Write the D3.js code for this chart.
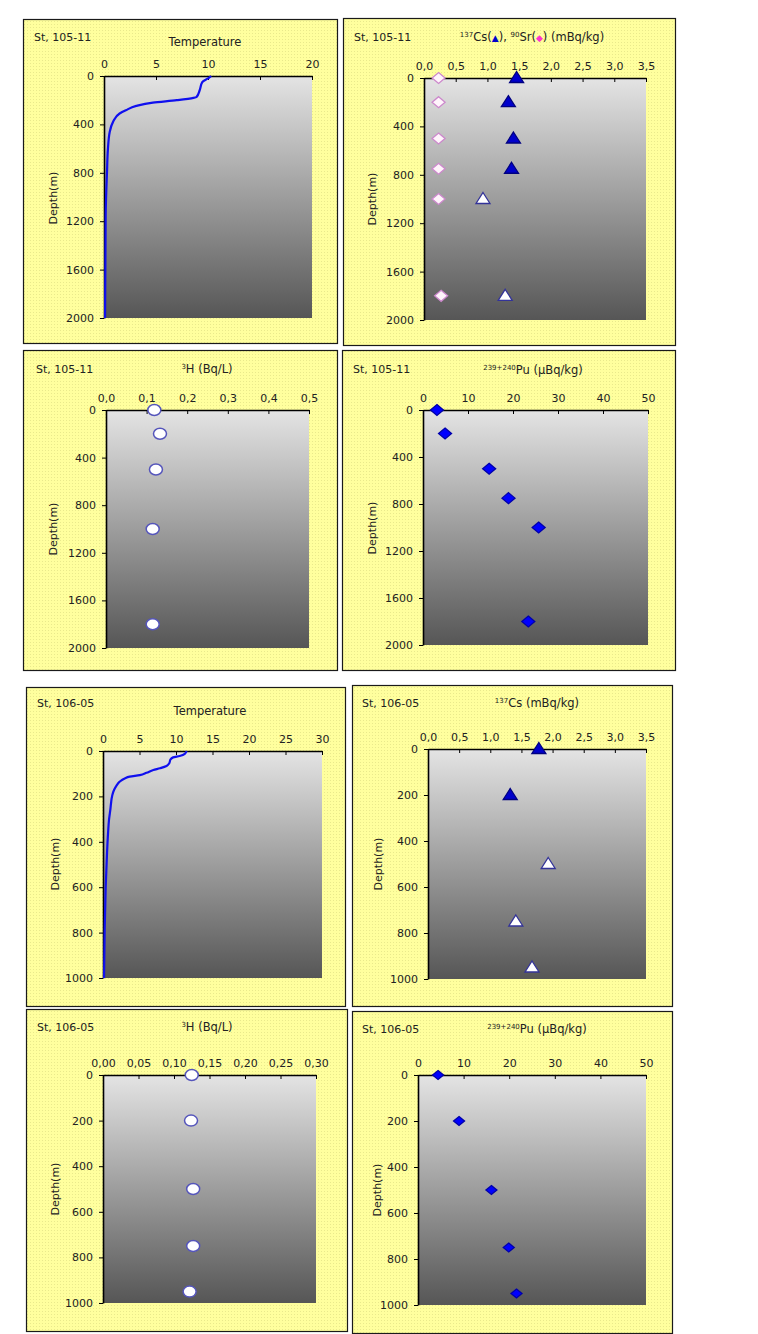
<!DOCTYPE html>
<html>
<head>
<meta charset="utf-8">
<title>St 105-11 / St 106-05 depth profiles</title>
<script src="https://cdn.jsdelivr.net/npm/d3@7"></script>
<style>
	body { margin: 0; background: #fff; }
	svg text { font-family: "DejaVu Sans", sans-serif; fill: #222; }
</style>
</head>
<body>
<svg id="chart" width="758" height="1334"></svg>
<script>
// ---- data, each point is [value, depth(m)] ----
var temp105 = [[10.3,0],[10.2,8],[10.0,20],[9.45,50],[9.2,118],[8.9,173],[8.6,181],[7.0,200],[4.7,220],[3.1,247],[2.1,283],[1.5,310],[0.87,379],[0.55,462],[0.38,600],[0.29,790],[0.16,1150],[0.1,2000]];
var cs105Filled = [[1.46,0],[1.33,200],[1.41,500],[1.38,750]];
var cs105Open = [[0.93,1000],[1.28,1800]];
var sr105 = [[0.23,0],[0.23,200],[0.23,500],[0.23,750],[0.23,1000],[0.27,1800]];
var h105 = [[0.119,0],[0.133,200],[0.123,500],[0.115,1000],[0.115,1800]];
var pu105 = [[3.1,0],[4.9,200],[14.7,500],[19.0,750],[25.7,1000],[23.4,1800]];

var temp106 = [[11.45,0],[11.2,13],[10.5,22],[9.6,28],[9.25,37],[9.07,54],[8.7,66],[7.8,76],[6.9,84],[5.95,96],[5.04,106],[3.66,113],[2.98,121],[2.29,135],[1.83,154],[1.51,172],[1.28,194],[1.0,260],[0.82,304],[0.69,363],[0.55,451],[0.37,599],[0.23,790],[0.14,1000]];
var cs106Filled = [[1.78,0],[1.32,200]];
var cs106Open = [[1.93,500],[1.41,750],[1.67,950]];
var h106 = [[0.125,0],[0.124,200],[0.127,500],[0.127,750],[0.122,950]];
var pu106 = [[4.4,0],[9.0,200],[16.1,500],[19.9,750],[21.6,950]];

// ---- tick values ----
var depthTicks2000 = [0,400,800,1200,1600,2000];
var depthTicks1000 = [0,200,400,600,800,1000];
var tempTicks20 = [0,5,10,15,20];
var tempTicks30 = [0,5,10,15,20,25,30];
var csTicks = [0,0.5,1,1.5,2,2.5,3,3.5];
var h105Ticks = [0,0.1,0.2,0.3,0.4,0.5];
var h106Ticks = [0,0.05,0.1,0.15,0.2,0.25,0.3];
var puTicks = [0,10,20,30,40,50];

// decimal comma like the original
function comma(n) { return function(v) { return d3.format("." + n + "f")(v).replace(".", ","); }; }
var plain = d3.format("d");

var svg = d3.select("#chart");
var defs = svg.append("defs");

var pat = defs.append("pattern").attr("id", "yellow").attr("patternUnits", "userSpaceOnUse")
	.attr("width", 3).attr("height", 3);
pat.append("rect").attr("width", 3).attr("height", 3).attr("fill", "#ffff9e");
pat.append("rect").attr("width", 1).attr("height", 1).attr("fill", "#e9e98c");

var grad = defs.append("linearGradient").attr("id", "gray").attr("x1", 0).attr("y1", 0).attr("x2", 0).attr("y2", 1);
grad.append("stop").attr("offset", "0%").attr("stop-color", "#e4e4e4");
grad.append("stop").attr("offset", "100%").attr("stop-color", "#565656");

// marker shapes
var triPath = "M0,-6.5L7,4.5L-7,4.5Z";
var diaPath = "M0,-5.5L6.5,0L0,5.5L-6.5,0Z";
var diaSmall = "M0,-4.5L5.5,0L0,4.5L-5.5,0Z";

// panel layout: box [x0,y0,x1,y1], plot [x0,x1,y0,y1]
var panels = [
	{ box:[23,19,337,343], plot:[104,312,76,318], st:[34,41], title:[205,46], ylab:[53,198],
	  titleParts:[{t:"Temperature"}], xDomain:[0,20], xTicks:tempTicks20, fmt:plain, yMax:2000, yTicks:depthTicks2000,
	  line:temp105 },
	{ box:[343,18,675,345], plot:[424,646,78,320], st:[354,41], title:[532,41], ylab:[372,199],
	  titleParts:[{s:"137"},{t:"Cs("},{t:"\u25B2",c:"#0000cc"},{t:"), "},{s:"90"},{t:"Sr("},{t:"\u25C6",c:"#ff33cc"},{t:") (mBq/kg)"}],
	  xDomain:[0,3.5], xTicks:csTicks, fmt:comma(1), yMax:2000, yTicks:depthTicks2000,
	  marks:[{d:sr105,shape:diaPath,fill:"#fff4fb",stroke:"#cc88cc"},
	         {d:cs105Filled,shape:triPath,fill:"#0000cc",stroke:"#000080"},
	         {d:cs105Open,shape:triPath,fill:"#ffffff",stroke:"#333399"}] },
	{ box:[23,350,337,670], plot:[106,309,410,648], st:[36,373], title:[207,373], ylab:[53,529],
	  titleParts:[{s:"3"},{t:"H (Bq/L)"}], xDomain:[0,0.5], xTicks:h105Ticks, fmt:comma(1), yMax:2000, yTicks:depthTicks2000,
	  marks:[{d:h105,ellipse:true,fill:"#ffffff",stroke:"#5555bb"}] },
	{ box:[342,350,675,670], plot:[423,648,410,645], st:[353,373], title:[533,374], ylab:[372,528],
	  titleParts:[{s:"239+240"},{t:"Pu (\u03BCBq/kg)"}], xDomain:[0,50], xTicks:puTicks, fmt:plain, yMax:2000, yTicks:depthTicks2000,
	  marks:[{d:pu105,shape:diaPath,fill:"#0000ff",stroke:"#0000aa"}] },
	{ box:[26,687,345,1006], plot:[103,322,751,978], st:[37,707], title:[210,715], ylab:[55,864],
	  titleParts:[{t:"Temperature"}], xDomain:[0,30], xTicks:tempTicks30, fmt:plain, yMax:1000, yTicks:depthTicks1000,
	  line:temp106 },
	{ box:[352,685,672,1006], plot:[428,646,749,979], st:[362,707], title:[537,707], ylab:[378,864],
	  titleParts:[{s:"137"},{t:"Cs (mBq/kg)"}], xDomain:[0,3.5], xTicks:csTicks, fmt:comma(1), yMax:1000, yTicks:depthTicks1000,
	  marks:[{d:cs106Filled,shape:triPath,fill:"#0000cc",stroke:"#000080"},
	         {d:cs106Open,shape:triPath,fill:"#ffffff",stroke:"#333399"}] },
	{ box:[26,1009,347,1331], plot:[103,316,1075,1303], st:[37,1031], title:[207,1031], ylab:[55,1189],
	  titleParts:[{s:"3"},{t:"H (Bq/L)"}], xDomain:[0,0.3], xTicks:h106Ticks, fmt:comma(2), yMax:1000, yTicks:depthTicks1000,
	  marks:[{d:h106,ellipse:true,fill:"#ffffff",stroke:"#5555bb"}] },
	{ box:[352,1011,672,1333], plot:[418,646,1075,1305], st:[362,1033], title:[537,1033], ylab:[377,1190],
	  titleParts:[{s:"239+240"},{t:"Pu (\u03BCBq/kg)"}], xDomain:[0,50], xTicks:puTicks, fmt:plain, yMax:1000, yTicks:depthTicks1000,
	  marks:[{d:pu106,shape:diaSmall,fill:"#0000ff",stroke:"#0000aa"}] }
];

var stations = ["St, 105-11","St, 105-11","St, 105-11","St, 105-11","St, 106-05","St, 106-05","St, 106-05","St, 106-05"];

panels.forEach(function(p, i) {
	var g = svg.append("g");
	g.append("rect")
		.attr("x", p.box[0] + 0.5).attr("y", p.box[1] + 0.5)
		.attr("width", p.box[2] - p.box[0]).attr("height", p.box[3] - p.box[1])
		.attr("fill", "url(#yellow)").attr("stroke", "#1a1a1a").attr("stroke-width", 1.2);

	var x = d3.scaleLinear().domain(p.xDomain).range([p.plot[0], p.plot[1]]);
	var y = d3.scaleLinear().domain([0, p.yMax]).range([p.plot[2], p.plot[3]]);

	g.append("rect")
		.attr("x", p.plot[0]).attr("y", p.plot[2])
		.attr("width", p.plot[1] - p.plot[0]).attr("height", p.plot[3] - p.plot[2])
		.attr("fill", "url(#gray)");

	// axes
	var ax = g.append("g").attr("transform", "translate(0," + p.plot[2] + ")")
		.call(d3.axisTop(x).tickValues(p.xTicks).tickFormat(p.fmt).tickSizeInner(-4).tickSizeOuter(0).tickPadding(8));
	var ay = g.append("g").attr("transform", "translate(" + p.plot[0] + ",0)")
		.call(d3.axisLeft(y).tickValues(p.yTicks).tickFormat(plain).tickSizeInner(4).tickSizeOuter(0).tickPadding(6));
	[ax, ay].forEach(function(a) {
		a.select(".domain").attr("stroke", "#000").attr("stroke-width", 1.6);
		a.selectAll(".tick line").attr("stroke", "#000");
		a.selectAll(".tick text").attr("font-size", 11).attr("fill", "#222")
			.style("font-family", "'DejaVu Sans', sans-serif");
	});

	// labels
	g.append("text").attr("x", p.st[0]).attr("y", p.st[1]).attr("font-size", 11).text(stations[i]);
	var tt = g.append("text").attr("x", p.title[0]).attr("y", p.title[1])
		.attr("text-anchor", "middle").attr("font-size", 11.5);
	var shifted = false;
	p.titleParts.forEach(function(part) {
		if (part.s) {
			tt.append("tspan").attr("font-size", 7).attr("dy", -4).text(part.s);
			shifted = true;
		} else {
			var ts = tt.append("tspan").attr("dy", shifted ? 4 : 0).text(part.t);
			if (part.c) ts.style("fill", part.c).attr("font-size", 9);
			shifted = false;
		}
	});
	g.append("text")
		.attr("transform", "translate(" + p.ylab[0] + "," + p.ylab[1] + ") rotate(-90)")
		.attr("text-anchor", "middle").attr("dy", "0.35em").attr("font-size", 11).text("Depth(m)");

	// temperature profile
	if (p.line) {
		g.append("path").datum(p.line)
			.attr("fill", "none").attr("stroke", "#1010ee").attr("stroke-width", 2.2)
			.attr("d", d3.line().x(function(d) { return x(d[0]); }).y(function(d) { return y(d[1]); })
				.curve(d3.curveMonotoneY));
	}

	// point markers
	(p.marks || []).forEach(function(m) {
		var sel = g.append("g").selectAll("x").data(m.d).enter();
		if (m.ellipse) {
			sel.append("ellipse")
				.attr("cx", function(d) { return x(d[0]); }).attr("cy", function(d) { return y(d[1]); })
				.attr("rx", 6.5).attr("ry", 5.5)
				.attr("fill", m.fill).attr("stroke", m.stroke).attr("stroke-width", 1.5);
		} else {
			sel.append("path").attr("d", m.shape)
				.attr("transform", function(d) { return "translate(" + x(d[0]) + "," + y(d[1]) + ")"; })
				.attr("fill", m.fill).attr("stroke", m.stroke).attr("stroke-width", 1.3);
		}
	});
});
</script>
</body>
</html>
